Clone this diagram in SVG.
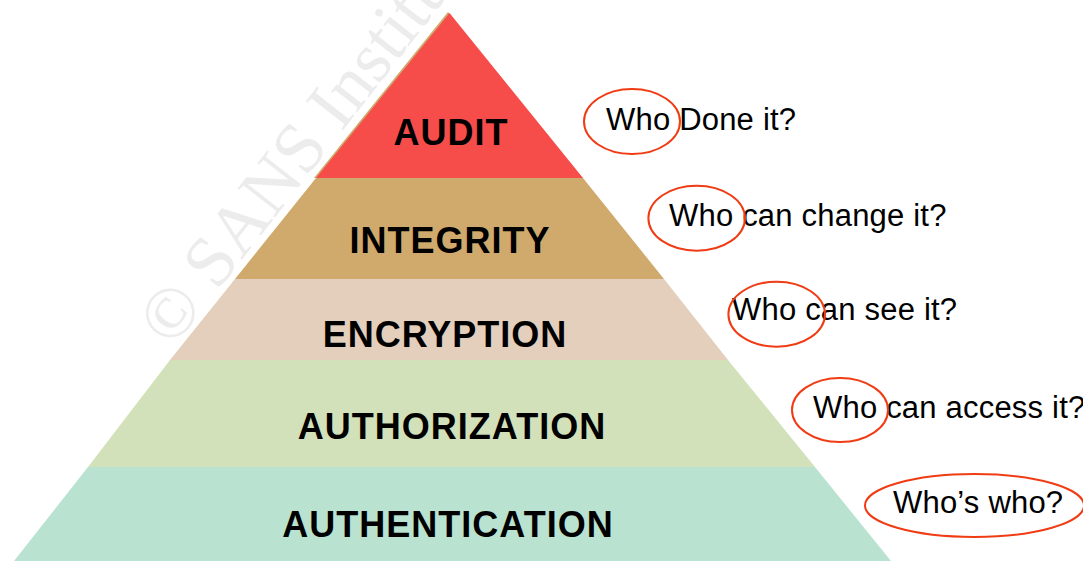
<svg xmlns="http://www.w3.org/2000/svg" width="1083" height="561" viewBox="0 0 1083 561">
<style>
.lbl{font-family:"Liberation Sans",Arial,sans-serif;font-weight:bold;font-size:36px;letter-spacing:1px;fill:#000;text-anchor:middle}
.q{font-family:"Liberation Sans",Arial,sans-serif;font-size:31px;letter-spacing:0.2px;fill:#000}
.ring{fill:none;stroke:#F03C14;stroke-width:2}
.wm{font-family:"Liberation Serif","Times New Roman",serif;font-size:72px;fill:#ECECEC}
</style>
<rect width="1083" height="561" fill="#fff"/>
<text class="wm" transform="translate(172,349) rotate(-52)">© SANS Institute</text>
<g id="audit">
<polygon points="448,12 582,178 314,178" fill="#CFAA6C"/>
<polygon points="449.5,13 583,178 316,178" fill="#F64D4A"/>
<text class="lbl" x="451" y="145">AUDIT</text>
</g>
<g id="integrity">
<polygon points="316,178 583,178 664,279 235,279" fill="#CFAA6C"/>
<text class="lbl" x="450" y="253">INTEGRITY</text>
</g>
<g id="encryption">
<polygon points="235,279 664,279 728,360 170,360" fill="#E3CFBB"/>
<text class="lbl" x="445" y="347">ENCRYPTION</text>
</g>
<g id="authorization">
<polygon points="170,360 728,360 815,467 88,467" fill="#D3E1BA"/>
<text class="lbl" x="452" y="439">AUTHORIZATION</text>
</g>
<g id="authentication">
<polygon points="88,467 815,467 891,561 14,561" fill="#B9E3D0"/>
<text class="lbl" x="448" y="537">AUTHENTICATION</text>
</g>
<g id="q-audit">
<text class="q" x="606" y="130">Who Done it?</text>
<ellipse class="ring" cx="632" cy="121.5" rx="48" ry="32.5"/>
</g>
<g id="q-integrity">
<text class="q" x="669" y="226">Who can change it?</text>
<ellipse class="ring" cx="696.7" cy="218.2" rx="48.3" ry="32.5"/>
</g>
<g id="q-encryption">
<text class="q" x="732" y="320">Who can see it?</text>
<ellipse class="ring" cx="776.7" cy="314.2" rx="48.3" ry="32.5"/>
</g>
<g id="q-authorization">
<text class="q" x="813" y="418">Who can access it?</text>
<ellipse class="ring" cx="840" cy="410" rx="48" ry="32"/>
</g>
<g id="q-authentication">
<text class="q" x="893" y="513">Who’s who?</text>
<ellipse class="ring" cx="974.5" cy="505.5" rx="109.5" ry="31.5"/>
</g>
<g id="connectors"/>
</svg>
